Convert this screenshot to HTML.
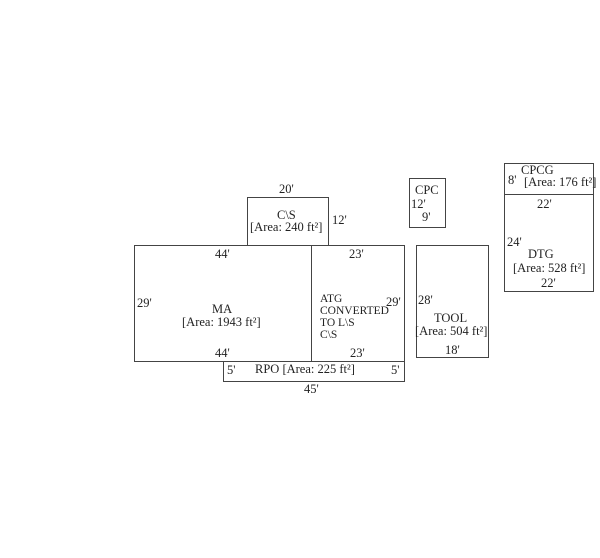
<!DOCTYPE html><html><head><style>
body{margin:0;width:600px;height:558px;background:#fff;position:relative;font-family:"Liberation Serif",serif;font-size:12.5px;color:#222}
.b{position:absolute;border:1px solid #444;box-sizing:border-box}
.t{position:absolute;white-space:nowrap;line-height:12px}
</style></head><body>
<div class="b" style="left:247px;top:197px;width:82px;height:49px"></div>
<div class="b" style="left:134px;top:245px;width:178px;height:117px"></div>
<div class="b" style="left:311px;top:245px;width:94px;height:117px"></div>
<div class="b" style="left:223px;top:361px;width:182px;height:21px"></div>
<div class="b" style="left:409px;top:178px;width:37px;height:50px"></div>
<div class="b" style="left:416px;top:245px;width:73px;height:113px"></div>
<div class="b" style="left:504px;top:163px;width:90px;height:129px"></div>
<div style="position:absolute;left:504px;top:194px;width:90px;height:1px;background:#444"></div>

<div class="t" style="left:279px;top:183px">20'</div>
<div class="t" style="left:277px;top:209px">C\S</div>
<div class="t" style="left:250px;top:221px">[Area: 240 ft²]</div>
<div class="t" style="left:332px;top:214px">12'</div>
<div class="t" style="left:215px;top:248px">44'</div>
<div class="t" style="left:349px;top:248px">23'</div>
<div class="t" style="left:137px;top:297px">29'</div>
<div class="t" style="left:212px;top:303px">MA</div>
<div class="t" style="left:182px;top:316px">[Area: 1943 ft²]</div>
<div class="t" style="left:320px;top:293px;font-size:11.5px">ATG</div>
<div class="t" style="left:320px;top:305px;font-size:11.5px">CONVERTED</div>
<div class="t" style="left:320px;top:317px;font-size:11.5px">TO L\S</div>
<div class="t" style="left:320px;top:329px;font-size:11.5px">C\S</div>
<div class="t" style="left:386px;top:296px">29'</div>
<div class="t" style="left:215px;top:347px">44'</div>
<div class="t" style="left:350px;top:347px">23'</div>
<div class="t" style="left:227px;top:364px">5'</div>
<div class="t" style="left:255px;top:363px">RPO [Area: 225 ft²]</div>
<div class="t" style="left:391px;top:364px">5'</div>
<div class="t" style="left:304px;top:383px">45'</div>

<div class="t" style="left:415px;top:184px">CPC</div>
<div class="t" style="left:411px;top:198px">12'</div>
<div class="t" style="left:422px;top:211px">9'</div>
<div class="t" style="left:418px;top:294px">28'</div>
<div class="t" style="left:434px;top:312px">TOOL</div>
<div class="t" style="left:415px;top:325px">[Area: 504 ft²]</div>
<div class="t" style="left:445px;top:344px">18'</div>

<div class="t" style="left:521px;top:164px">CPCG</div>
<div class="t" style="left:508px;top:174px">8'</div>
<div class="t" style="left:524px;top:176px">[Area: 176 ft²]</div>
<div class="t" style="left:537px;top:198px">22'</div>
<div class="t" style="left:507px;top:236px">24'</div>
<div class="t" style="left:528px;top:248px">DTG</div>
<div class="t" style="left:513px;top:262px">[Area: 528 ft²]</div>
<div class="t" style="left:541px;top:277px">22'</div>
</body></html>
